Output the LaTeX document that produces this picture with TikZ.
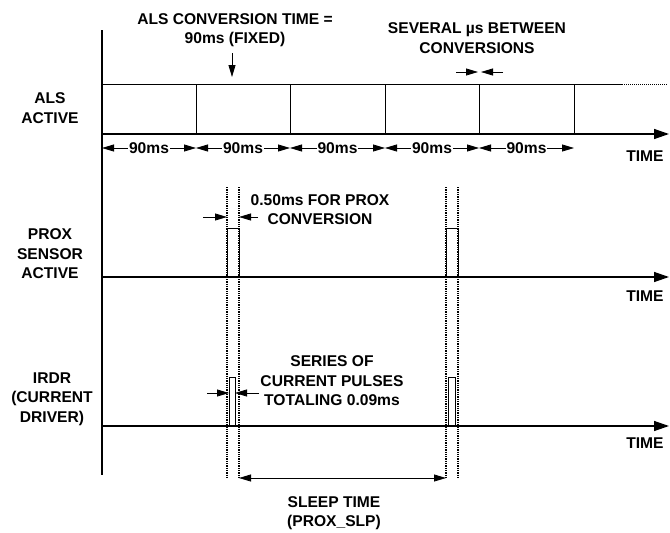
\documentclass[tikz,border=0pt]{standalone}
\usepackage{fontspec}
\setmainfont{Liberation Sans}
\usetikzlibrary{arrows.meta, positioning}

\tikzset{
  lbl/.style={font=\fontsize{15.6}{19.5}\selectfont\bfseries, align=center, inner sep=0pt},
  axis/.style={line width=1.4pt, -{Triangle[length=15pt,width=10pt]}},
  dim/.style={line width=0.8pt, -{Triangle[length=12pt,width=7pt]}},
  dimboth/.style={line width=0.8pt, {Triangle[length=12pt,width=7pt]}-{Triangle[length=12pt,width=7pt]}},
  guide/.style={densely dotted, line width=1.3pt},
  pulse/.style={line width=0.7pt}
}

\begin{document}
\begin{tikzpicture}[x=1pt, y=-1pt]
  \useasboundingbox (0,0) rectangle (670,533);

  % vertical axis
  \draw[line width=1.4pt] (102,30) -- (102,475);

  % ALS row
  \node[lbl] (alsname) at (50,108) {ALS\\ACTIVE};
  \draw[axis] (102,134) -- (669,134);
  \node[lbl] (time1) at (645,156) {TIME};
  \draw[line width=1pt] (102,84) -- (622,84);
  \draw[line width=1pt, densely dotted] (622,84) -- (668,84);
  \foreach \x [count=\i from 0] in {102,196,290,385,479,574} {
    \coordinate (t\i) at (\x,148);
    \ifnum\i>0 \draw[line width=0.7pt] (\x,84) -- (\x,134); \fi
  }
  \foreach \a/\b in {0/1,1/2,2/3,3/4,4/5}
    \draw[dimboth] (t\a) -- node[lbl, fill=white, inner xsep=1pt, inner ysep=2pt] {90ms} (t\b);

  \node[lbl] (convtime) at (235,30) {ALS CONVERSION TIME =\\90ms (FIXED)};
  \draw[dim] (232,53) -- (232,77);
  \node[lbl] (gap) at (477,38) {SEVERAL µs BETWEEN\\CONVERSIONS};
  \draw[dim] (456,72) -- (478,72);
  \draw[dim] (503,72) -- (481,72);

  % PROX row
  \node[lbl] (proxname) at (50,254) {PROX\\SENSOR\\ACTIVE};
  \draw[axis] (102,277) -- (669,277);
  \node[lbl] (time2) at (645,296) {TIME};
  \foreach \x in {227,446}
    \draw[pulse] (\x,277) -- (\x,228) -- (\x+12,228) -- (\x+12,277);
  \node[lbl] (proxconv) at (320,209.5) {0.50ms FOR PROX\\CONVERSION};
  \draw[dim] (203,217) -- (227,217);
  \draw[dim] (258,217) -- (239,217);

  % IRDR row
  \node[lbl] (irdrname) at (52,399) {IRDR\\(CURRENT\\DRIVER)};
  \draw[axis] (102,426) -- (669,426);
  \node[lbl] (time3) at (645,443) {TIME};
  \draw[pulse] (229,426) rectangle (235,377);
  \draw[pulse] (448,426) rectangle (455,377);
  \node[lbl] (series) at (332,381) {SERIES OF\\CURRENT PULSES\\TOTALING 0.09ms};
  \draw[dim] (207,393) -- (229,393);
  \draw[dim] (259,393) -- (235,393);

  % dotted guides
  \foreach \x in {227,239,446,458}
    \draw[guide] (\x,187) -- (\x,478);

  % sleep time
  \draw[dimboth] (239,478) -- (446,478);
  \node[lbl] (sleep) at (334,513) {SLEEP TIME\\(PROX\_SLP)};
\end{tikzpicture}
\end{document}
